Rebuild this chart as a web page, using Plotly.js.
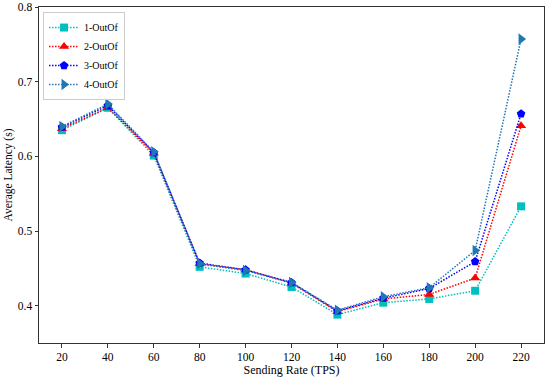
<!DOCTYPE html>
<html>
<head>
<meta charset="utf-8">
<script src="https://cdn.plot.ly/plotly-3.0.1.min.js"></script>
<style>html,body{margin:0;padding:0;background:#fff;}#chart{width:550px;height:378px;}</style>
</head>
<body>
<div id="chart"></div>
<script>
const rates = [20, 40, 60, 80, 100, 120, 140, 160, 180, 200, 220];
const seriesNames = ["1-OutOf", "2-OutOf", "3-OutOf", "4-OutOf"];
const oneOutOf   = [0.635, 0.665, 0.601, 0.452, 0.443, 0.425, 0.388, 0.404, 0.409, 0.420, 0.533];
const twoOutOf   = [0.637, 0.665, 0.604, 0.456, 0.448, 0.430, 0.392, 0.409, 0.415, 0.437, 0.641];
const threeOutOf = [0.639, 0.668, 0.605, 0.457, 0.448, 0.431, 0.393, 0.410, 0.423, 0.459, 0.657];
const fourOutOf  = [0.640, 0.670, 0.606, 0.456, 0.447, 0.431, 0.394, 0.412, 0.424, 0.474, 0.757];
const xTicks = [20, 40, 60, 80, 100, 120, 140, 160, 180, 200, 220];
const yTicks = [0.4, 0.5, 0.6, 0.7, 0.8];

const colors = ["#00BFBF", "#FF0000", "#0000FF", "#1F77B4"];
const symbols = ["square", "triangle-up", "pentagon", "triangle-right"];
const sizes = [8, 9, 9, 10];
const values = [oneOutOf, twoOutOf, threeOutOf, fourOutOf];

const traces = values.map((v, i) => ({
  x: rates, y: v, name: seriesNames[i], type: "scatter", mode: "lines+markers",
  line: {color: colors[i], dash: "1.5px,1.5px", width: 1.5},
  marker: {color: colors[i], symbol: symbols[i], size: sizes[i], line: {width: 0}}
}));

const font = {family: "Liberation Serif, Times New Roman, serif", color: "#000"};
const layout = {
  width: 550, height: 378,
  margin: {l: 39, r: 6, t: 7, b: 35},
  paper_bgcolor: "#fff", plot_bgcolor: "#fff",
  showlegend: true,
  font: Object.assign({size: 11}, font),
  xaxis: {
    range: [10, 230], tickvals: xTicks, ticktext: xTicks.map(String),
    showgrid: false, zeroline: false, showline: true, mirror: true,
    linecolor: "#333", linewidth: 1, ticks: "outside", ticklen: 3.5, tickcolor: "#333",
    tickfont: Object.assign({size: 11.5}, font),
    title: {text: "Sending Rate (TPS)", font: Object.assign({size: 12}, font), standoff: 1}
  },
  yaxis: {
    range: [0.35, 0.8], tickvals: yTicks, ticktext: yTicks.map(v => v.toFixed(1)),
    showgrid: false, zeroline: false, showline: true, mirror: true,
    linecolor: "#333", linewidth: 1, ticks: "outside", ticklen: 3.5, tickcolor: "#333",
    tickfont: Object.assign({size: 11.5}, font),
    title: {text: "Average Latency (s)", font: Object.assign({size: 11.5}, font), standoff: 2}
  },
  legend: {
    x: 0.008, y: 0.985, xanchor: "left", yanchor: "top",
    bgcolor: "rgba(255,255,255,0.8)", bordercolor: "#ccc", borderwidth: 1,
    font: Object.assign({size: 10}, font),
    tracegroupgap: 0, itemwidth: 30
  }
};
Plotly.newPlot("chart", traces, layout, {displayModeBar: false, staticPlot: true});
</script>
</body>
</html>
